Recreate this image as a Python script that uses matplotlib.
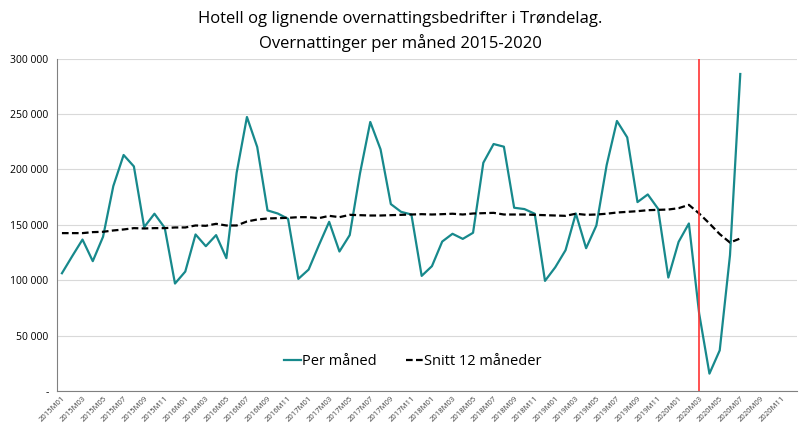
import numpy as np
import matplotlib
matplotlib.use('Agg')
import matplotlib.pyplot as plt
from matplotlib.ticker import FuncFormatter

# Monthly overnight stays, 2015M01 - 2020M07
per_maned = [
    106300, 121700, 136700, 117200, 139200, 185000, 213000, 202700, 147900, 160000, 147300, 97000,
    107800, 141300, 130700, 140700, 119900, 197000, 247300, 220200, 163000, 160200, 155400, 101200,
    109600, 131600, 152700, 125900, 140700, 196400, 242800, 218100, 168700, 161700, 159300, 103900,
    112700, 134900, 141900, 137300, 142800, 206000, 222900, 220500, 165400, 164200, 160000, 99400,
    111700, 127100, 160200, 128900, 149400, 203900, 243700, 228900, 170500, 177400, 164500, 102400,
    134600, 151200, 69900, 15700, 36700, 122600, 286100,
]
# 12 month rolling average
snitt_12 = [
    142500, 142500, 142500, 143400, 143700, 144900, 145800, 147000, 146700, 147000, 147000, 147600,
    147600, 149400, 149100, 150900, 149400, 149400, 153000, 154800, 155700, 156000, 156300, 156900,
    156900, 156000, 158100, 156900, 159000, 158700, 158400, 158400, 158700, 159000, 159300, 159600,
    159300, 159600, 160000, 159300, 160200, 160500, 160800, 159300, 159300, 159300, 159000, 158700,
    158400, 158100, 160000, 159000, 159300, 160000, 161100, 161700, 162300, 163200, 163500, 163800,
    165000, 168000, 160200, 151200, 141600, 134000, 137700,
]
years = [2015, 2016, 2017, 2018, 2019, 2020]
months = [f'{y}M{m:02d}' for y in years for m in range(1, 13)]
corona_month = '2020M03'

plt.rcParams['font.family'] = ['Open Sans', 'DejaVu Sans']

fig = plt.figure(figsize=(8, 4.34), dpi=100)
ax = fig.add_axes([0.071, 0.099, 0.925, 0.766])

x_all = np.arange(len(months))
ax.plot(x_all[:len(per_maned)], per_maned, color='#17898C', lw=1.6, label='Per måned')
ax.plot(x_all[:len(snitt_12)], snitt_12, color='black', lw=1.6, ls=(0, (3, 1.5)),
        label='Snitt 12 måneder')
ax.axvline(months.index(corona_month), color='#FF3333', lw=1.2)

ax.set_xlim(-0.5, len(months) - 0.5)
ax.set_ylim(0, 300000)
ax.set_yticks(np.arange(0, 300001, 50000))
ax.yaxis.set_major_formatter(FuncFormatter(
    lambda v, p: '-' if v == 0 else f'{int(v):,}'.replace(',', ' ')))
ax.grid(axis='y', color='#D9D9D9', lw=0.8)
ax.set_axisbelow(True)

ax.set_xticks(x_all[::2])
ax.set_xticklabels(months[::2], rotation=45, ha='right', rotation_mode='anchor',
                   fontsize=5.5, color='#404040')
ax.tick_params(axis='x', length=0, pad=3)
ax.tick_params(axis='y', length=0, labelsize=7.5, pad=6)

for s in ['top', 'right']:
    ax.spines[s].set_visible(False)
for s in ['left', 'bottom']:
    ax.spines[s].set_color('#808080')

ax.legend(loc='center', bbox_to_anchor=(0.481, 0.09), ncol=2, frameon=False,
          fontsize=10.5, handlelength=1.15, handletextpad=0.1, columnspacing=2.0)

fig.text(0.5, 0.975, 'Hotell og lignende overnattingsbedrifter i Trøndelag.\n'
         'Overnattinger per måned 2015-2020', ha='center', va='top', fontsize=12,
         linespacing=1.5)

fig.savefig('out.png', dpi=100)
